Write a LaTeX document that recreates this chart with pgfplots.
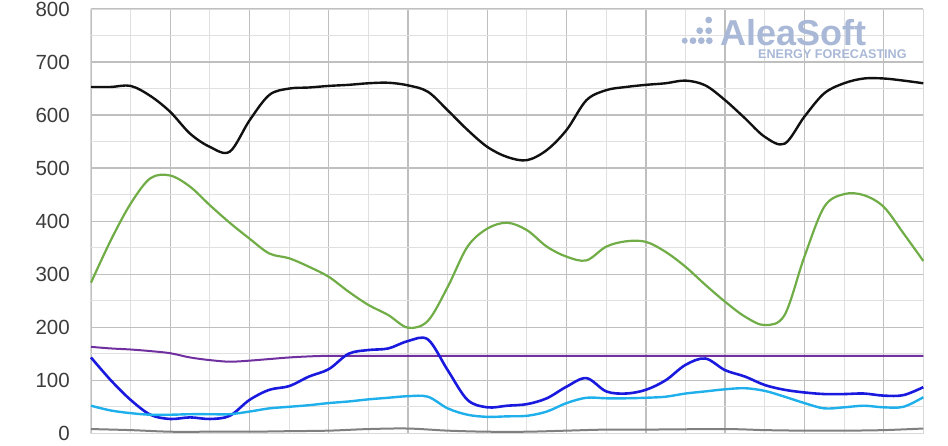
\documentclass[border=0pt]{standalone}
\usepackage{pgfplots}
\pgfplotsset{compat=1.18}
\usepackage{fontspec}
\setmainfont{Liberation Sans}
\definecolor{cblack}{HTML}{111111}
\definecolor{cgreen}{HTML}{70AD47}
\definecolor{cpurple}{HTML}{7030A0}
\definecolor{cblue}{HTML}{1A1ADF}
\definecolor{ccyan}{HTML}{1FB0EC}
\definecolor{cgray}{HTML}{808080}
\definecolor{logo}{RGB}{168,184,214}
\definecolor{ticktext}{HTML}{3C3C3C}
\begin{document}
\begin{tikzpicture}[x=1pt,y=1pt]
\begin{axis}[
  at={(0,0)}, anchor=south west,
  scale only axis, width=832.3pt, height=424.3pt,
  xmin=0, xmax=21, ymin=0, ymax=800,
  xtick={0,2,...,20}, minor xtick={1,3,...,21}, xticklabels={},
  ytick={0,100,...,800}, minor ytick={50,150,...,750},
  grid=both,
  major grid style={draw=black!25, line width=1.3pt},
  minor grid style={draw=black!12, line width=1pt},
  axis line style={draw=black!15, line width=1pt},
  major tick length=0pt, minor tick length=0pt,
  yticklabel style={font=\fontsize{20.5}{24}\selectfont, text=ticktext, inner sep=0pt, xshift=-21pt, anchor=east},
  /pgf/number format/assume math mode=true,
  clip=false,
  every axis plot/.append style={smooth, tension=0.55, no markers},
]
\addplot[cblack, line width=2.4pt] coordinates {
(0,653) (0.5,653) (1,655) (1.5,636) (2,606) (2.5,565) (3,540) (3.5,531) (4,590) (4.5,638)
(5,650) (5.5,652) (6,655) (6.5,657) (7,660) (7.5,661) (8,656) (8.5,644) (9,609) (9.5,572)
(10,540) (10.5,521) (11,515) (11.5,534) (12,572) (12.5,628) (13,647) (13.5,653) (14,657)
(14.5,660) (15,665) (15.5,656) (16,628) (16.5,594) (17,559) (17.5,546) (18,597) (18.5,641)
(19,660) (19.5,669) (20,669) (20.5,665) (21,660)};
\addplot[cgreen, line width=2.2pt] coordinates {
(0,284) (0.5,364) (1,433) (1.5,481) (2,486) (2.5,465) (3,430) (3.5,397) (4,367) (4.5,339)
(5,330) (5.5,314) (6,295) (6.5,267) (7,242) (7.5,223) (8,199) (8.5,212) (9,276) (9.5,352)
(10,386) (10.5,397) (11,383) (11.5,352) (12,333) (12.5,326) (13,352) (13.5,362) (14,361)
(14.5,342) (15,314) (15.5,280) (16,248) (16.5,220) (17,204) (17.5,223) (18,333) (18.5,427)
(19,451) (19.5,449) (20,427) (20.5,377) (21,325)};
\addplot[cpurple, line width=2pt] coordinates {
(0,163) (0.5,160) (1,158) (1.5,155) (2,151) (2.5,143) (3,138) (3.5,135) (4,137) (4.5,140)
(5,143) (5.5,145) (6,146) (7,146) (8,146) (10,146) (14,146) (18,146) (21,146)};
\addplot[cblue, line width=2.6pt] coordinates {
(0,143) (0.5,100) (1,63) (1.5,35) (2,27) (2.5,30) (3,27) (3.5,33) (4,63) (4.5,82) (5,89)
(5.5,107) (6,121) (6.5,150) (7,157) (7.5,160) (8,174) (8.5,177) (9,119) (9.5,63) (10,49)
(10.5,52) (11,55) (11.5,66) (12,88) (12.5,104) (13,79) (13.5,75) (14,82) (14.5,100)
(15,129) (15.5,141) (16,119) (16.5,107) (17,91) (17.5,82) (18,77) (18.5,74) (19,74)
(19.5,75) (20,71) (20.5,72) (21,87)};
\addplot[ccyan, line width=2.4pt] coordinates {
(0,52) (0.5,43) (1,38) (1.5,35) (2,35) (2.5,36) (3,36) (3.5,36) (4,41) (4.5,47) (5,50)
(5.5,53) (6,57) (6.5,60) (7,64) (7.5,67) (8,70) (8.5,69) (9,47) (9.5,35) (10,31) (10.5,32)
(11,33) (11.5,41) (12,57) (12.5,67) (13,66) (13.5,66) (14,67) (14.5,69) (15,75) (15.5,79)
(16,83) (16.5,85) (17,80) (17.5,69) (18,57) (18.5,47) (19,49) (19.5,52) (20,49) (20.5,50)
(21,68)};
\addplot[cgray, line width=2pt] coordinates {
(0,8) (1,6) (2,3) (3,3) (4,3) (5,4) (6,5) (7,8) (8,9) (9,5) (10,3) (11,3) (12,5) (13,7)
(14,7) (16,8) (17,6) (18,5) (19,5) (20,6) (21,9)};
\end{axis}
% logo
\fill[logo] (617.7,413.3) circle (3.4pt);
\fill[logo] (608.7,402.6) circle (3.4pt);
\fill[logo] (617.7,402.6) circle (3.4pt);
\fill[logo] (593.7,392.6) circle (3pt);
\fill[logo] (602,392.6) circle (3.4pt);
\fill[logo] (610.3,392.6) circle (3.4pt);
\fill[logo] (618.3,392.6) circle (3.4pt);
\node[anchor=base west, inner sep=0pt, text=logo, font=\fontsize{36}{40}\selectfont\bfseries] at (629,388) {AleaSoft};
\node[anchor=base west, inner sep=0pt, text=logo, font=\fontsize{12.6}{14}\selectfont\bfseries] at (667,374.8) {ENERGY FORECASTING};
\pgfresetboundingbox
\useasboundingbox (-91,-11.7) rectangle (857,433.3);
\end{tikzpicture}
\end{document}
